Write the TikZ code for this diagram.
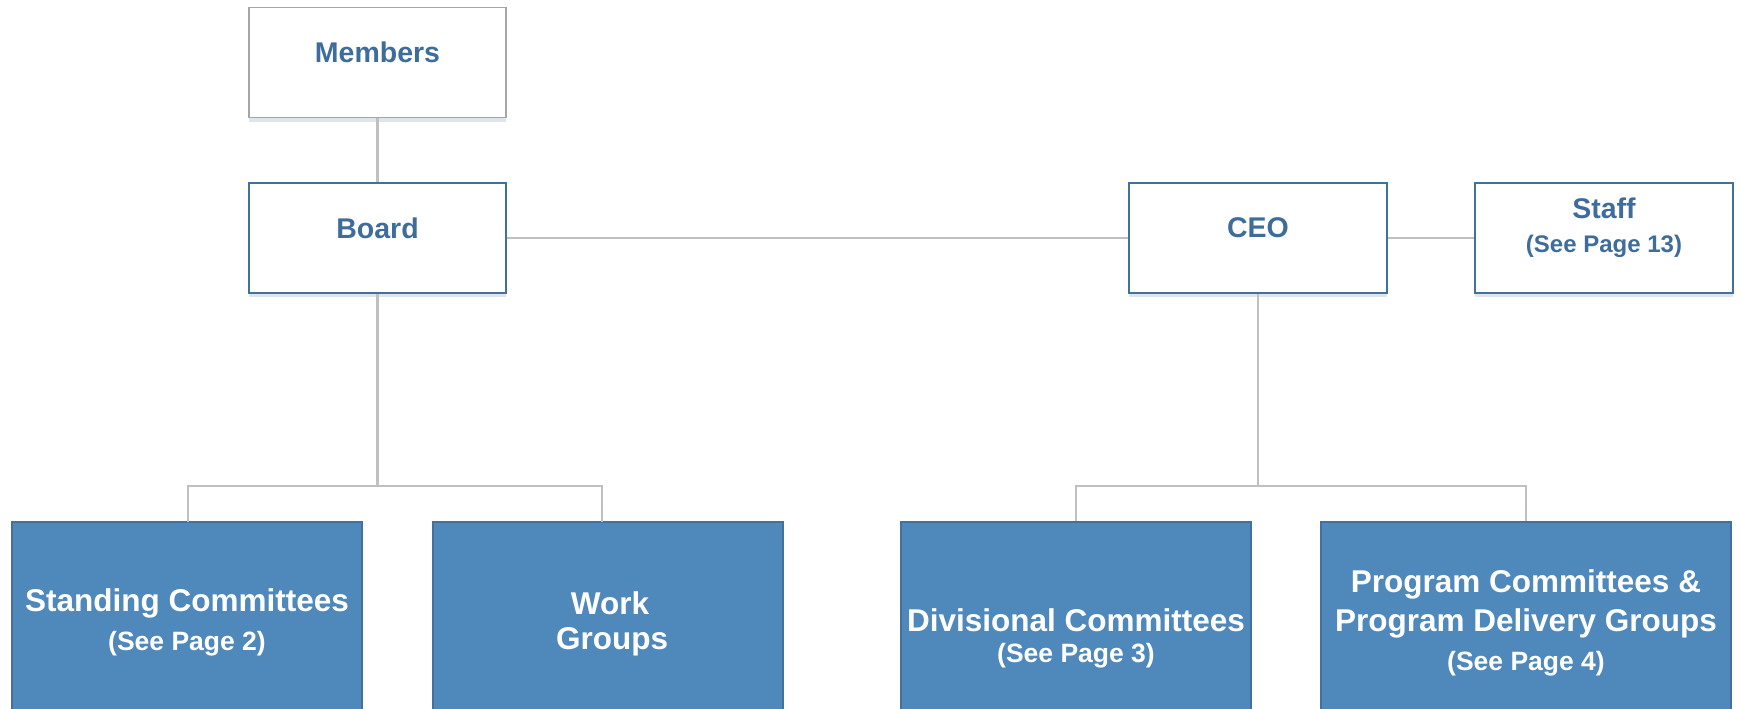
\documentclass[tikz,border=0pt]{standalone}
\usepackage{fontspec}
\setmainfont{Liberation Sans}
\usetikzlibrary{shadows}
\definecolor{txtblue}{HTML}{3E6D9C}
\definecolor{boxline}{HTML}{41719C}
\definecolor{boxfill}{HTML}{4F88BB}
\definecolor{connc}{HTML}{C0C0C0}
\definecolor{grayline}{HTML}{A6A6A6}
\begin{document}
\begin{tikzpicture}[x=1pt,y=-1pt,
  topbox/.style={draw=boxline, line width=1.2pt, fill=white, inner sep=0pt,
    minimum width=257pt, minimum height=110pt,
    drop shadow={shadow xshift=0pt, shadow yshift=-4pt, fill=boxline!70, opacity=0.25}},
  botbox/.style={draw=boxline, line width=1.2pt, fill=boxfill, inner sep=0pt,
    minimum width=350pt},
  toptext/.style={text=txtblue, align=center, inner sep=0pt, font=\bfseries\fontsize{28.5}{34}\selectfont},
  bigw/.style={text=white, inner sep=0pt, font=\bfseries\fontsize{31.5}{38}\selectfont},
  smallw/.style={text=white, inner sep=0pt, font=\bfseries\fontsize{26.5}{30}\selectfont},
  conn/.style={draw=connc, line width=2.2pt}
]
\useasboundingbox (0,0) rectangle (1741,709);
\fill[white] (0,0) rectangle (1741,709);

\coordinate (lbus) at (377.5,486);
\coordinate (rbus) at (1258,486);
\coordinate (workin) at (602,522);
\coordinate (standin) at (188,522);

% top boxes
\node[topbox, draw=grayline] (members) at (377.5,62.5) {};
\node[topbox] (board) at (377.5,238) {};
\node[topbox, minimum width=258pt] (ceo) at (1258,238) {};
\node[topbox, minimum width=258pt] (staff) at (1604,238) {};

\node[toptext] (memberst) at (377.5,52) {Members};
\node[toptext] (boardt) at (377.5,228) {Board};
\node[toptext] (ceot) at (1258,228) {CEO};
\node[toptext] (stafft) at (1604,208) {Staff};
\node[toptext, font=\bfseries\fontsize{24}{28}\selectfont] (staffs) at (1604,246) {(See Page 13)};

% bottom boxes
\node[botbox, minimum height=204pt] (standing) at (187,624) {};
\node[botbox, minimum height=204pt] (work) at (608,624) {};
\node[botbox, minimum height=232pt] (div) at (1076,638) {};
\node[botbox, minimum width=410pt, minimum height=204pt] (prog) at (1526,624) {};

\node[bigw] (standt) at (187,603) {Standing Committees};
\node[smallw] (stands) at (187,644) {(See Page 2)};
\node[bigw] (workt) at (610,603) {Work};
\node[bigw] (workg) at (612,642) {Groups};
\node[bigw] (divt) at (1076,620) {Divisional Committees};
\node[smallw] (divs) at (1076,656) {(See Page 3)};
\node[bigw] (progt) at (1526,584) {Program Committees \&};
\node[bigw] (progd) at (1526,623) {Program Delivery Groups};
\node[smallw] (progs) at (1526,664) {(See Page 4)};

% connectors
\draw[conn] (members.south) -- (board.north);
\draw[conn] (board.east) -- (ceo.west);
\draw[conn] (ceo.east) -- (staff.west);
\draw[conn] (board.south) -- (lbus);
\draw[conn] (standin) |- (lbus) -| (workin);
\draw[conn] (ceo.south) -- (rbus);
\draw[conn] (div.north) |- (rbus) -| (prog.north);
\end{tikzpicture}
\end{document}
